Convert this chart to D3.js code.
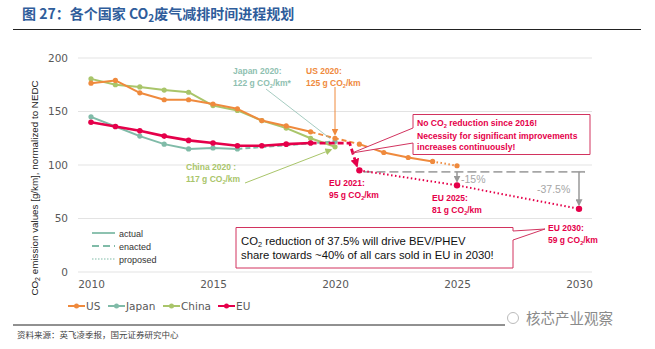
<!DOCTYPE html>
<html>
<head>
<meta charset="utf-8">
<script src="https://cdn.jsdelivr.net/npm/d3@7"></script>
<style>
  body { margin: 0; background: #fff; }
  svg { display: block; font-family: "Liberation Sans", Arial, sans-serif; }
</style>
</head>
<body>
<div id="chart"></div>
<script>
const width = 655;
const height = 349;

// data
const yTicks = [0, 50, 100, 150, 200];
const xTicks = [2010, 2015, 2020, 2025, 2030];

const usActual = [[2010, 176.5], [2011, 179], [2012, 167.5], [2013, 161], [2014, 161], [2015, 157], [2016, 152.5], [2017, 141.5], [2018, 136.5], [2019, 131]];
const usEnacted = [[2019, 131], [2020, 125], [2021, 119.5]];
const usPath = [[2021, 119.5], [2022, 111.7], [2023, 107], [2024, 103.3]];
const usProposed = [[2024, 103.3], [2025, 99.3]];

const japanActual = [[2010, 145], [2011, 136], [2012, 127], [2013, 119.5], [2014, 115], [2015, 116], [2016, 115]];
const japanEnacted = [[2016, 115], [2020, 122]];

const chinaActual = [[2010, 180.5], [2011, 175], [2012, 173], [2013, 170], [2014, 168], [2015, 155.5], [2016, 151], [2017, 141.5], [2018, 134.5], [2019, 125], [2020, 117]];

const euActual = [[2010, 140], [2011, 136], [2012, 132], [2013, 127], [2014, 123], [2015, 120.5], [2016, 118], [2017, 118], [2018, 119.5], [2019, 120.5]];
const euEnacted = [[2019, 120.5], [2020.6, 120.5], [2020.9, 99]];
const euProposed = [[2021, 95], [2025, 81], [2030, 59]];
const euBase = 95;

const seriesNames = ["US", "Japan", "China", "EU"];
const colors = { US: "#ef8a3d", Japan: "#80bba8", China: "#a9c56a", EU: "#e5004a" };

const svg = d3.select("#chart").append("svg")
  .attr("width", width)
  .attr("height", height);

const defs = svg.append("defs");
function arrow(id, color, size) {
  defs.append("marker")
    .attr("id", id)
    .attr("viewBox", "0 0 10 10")
    .attr("refX", 8).attr("refY", 5)
    .attr("markerWidth", size).attr("markerHeight", size)
    .attr("markerUnits", "userSpaceOnUse")
    .attr("orient", "auto")
    .append("path").attr("d", "M0,0L10,5L0,10z").attr("fill", color);
}
arrow("arOrange", colors.US, 7);
arrow("arGreen", colors.China, 7);
arrow("arRed", colors.EU, 9);
arrow("arGray", "#999", 7);

// title
svg.append("text")
  .attr("x", 22).attr("y", 19)
  .attr("font-family", "'Noto Sans CJK SC', sans-serif")
  .attr("font-size", 14).attr("font-weight", "bold")
  .attr("fill", "#2f5d9b")
  .html("图 27：各个国家 CO<tspan font-size='10' dy='3'>2</tspan><tspan dy='-3'>废气减排时间进程规划</tspan>");
svg.append("line").attr("x1", 13).attr("x2", 641).attr("y1", 29.5).attr("y2", 29.5)
  .attr("stroke", "#222").attr("stroke-width", 1);

const x = d3.scaleLinear().domain([2010, 2030]).range([91, 579]);
const y = d3.scaleLinear().domain([0, 200]).range([272, 58]);

// grid
svg.append("g").selectAll("line").data(yTicks).join("line")
  .attr("x1", 78).attr("x2", 592)
  .attr("y1", d => y(d)).attr("y2", d => y(d))
  .attr("stroke", "#e3e3e3").attr("stroke-width", 1);

// axes
const yAxis = svg.append("g").attr("transform", "translate(72,0)")
  .call(d3.axisLeft(y).tickValues(yTicks).tickSize(0).tickPadding(4));
const xAxis = svg.append("g").attr("transform", "translate(0,279)")
  .call(d3.axisBottom(x).tickValues(xTicks).tickFormat(d3.format("d")).tickSize(0).tickPadding(2));
[yAxis, xAxis].forEach(a => {
  a.select(".domain").remove();
  a.selectAll("text").attr("fill", "#595959")
    .attr("font-family", "'DejaVu Sans', sans-serif").attr("font-size", 10.5);
});

// y title
svg.append("text")
  .attr("transform", "translate(38,188) rotate(-90)")
  .attr("text-anchor", "middle")
  .attr("font-size", 9.8).attr("fill", "#222")
  .html("CO<tspan font-size='7' dy='2'>2</tspan><tspan dy='-2'> emission values [g/km], normalized to NEDC</tspan>");

const line = d3.line().x(d => x(d[0])).y(d => y(d[1]));

function drawLine(data, color, w, dash, markerEnd) {
  const p = svg.append("path").datum(data)
    .attr("d", line)
    .attr("fill", "none")
    .attr("stroke", color)
    .attr("stroke-width", w)
    .attr("stroke-linejoin", "round");
  if (dash) p.attr("stroke-dasharray", dash);
  if (markerEnd) p.attr("marker-end", markerEnd);
  return p;
}
function drawDots(data, color, r) {
  svg.append("g").selectAll("circle").data(data).join("circle")
    .attr("cx", d => x(d[0])).attr("cy", d => y(d[1]))
    .attr("r", r).attr("fill", color);
}

// gray reference line and reduction arrows
svg.append("line")
  .attr("x1", x(2021) + 4).attr("x2", x(2030) + 6)
  .attr("y1", y(euBase) + 1.5).attr("y2", y(euBase) + 1.5)
  .attr("stroke", "#a6a6a6").attr("stroke-width", 1.8).attr("stroke-dasharray", "9,4");
svg.append("line")
  .attr("x1", x(2030)).attr("x2", x(2030) + 6)
  .attr("y1", y(euBase) + 1.5).attr("y2", y(euBase) + 1.5)
  .attr("stroke", "#a6a6a6").attr("stroke-width", 1.8);
svg.append("line")
  .attr("x1", x(2025)).attr("x2", x(2025))
  .attr("y1", y(euBase) + 1.5).attr("y2", y(81) - 4)
  .attr("stroke", "#999").attr("stroke-width", 1.5).attr("marker-end", "url(#arGray)");
svg.append("line")
  .attr("x1", x(2030)).attr("x2", x(2030))
  .attr("y1", y(euBase) + 1.5).attr("y2", y(59) - 4)
  .attr("stroke", "#999").attr("stroke-width", 1.5).attr("marker-end", "url(#arGray)");
svg.append("text").attr("x", x(2025) + 4).attr("y", 183)
  .attr("font-size", 10.5).attr("fill", "#a6a6a6").text("-15%");
svg.append("text").attr("x", 537).attr("y", 193)
  .attr("font-size", 10.5).attr("fill", "#a6a6a6").text("-37.5%");

// series
drawLine(japanActual, colors.Japan, 2);
drawLine(japanEnacted, colors.Japan, 2, "5,3");
drawDots(japanActual.concat([japanEnacted[1]]), colors.Japan, 2.6);

drawLine(chinaActual, colors.China, 2);
drawDots(chinaActual, colors.China, 2.6);

drawLine(usActual, colors.US, 2);
drawLine(usEnacted, colors.US, 2, "5,3");
drawLine(usPath, colors.US, 2);
drawLine(usProposed, colors.US, 2, "1.5,2.5");
drawDots(usActual.concat(usEnacted.slice(1), usPath.slice(1), usProposed.slice(1)), colors.US, 2.6);

drawLine(euActual, colors.EU, 2.6);
drawLine(euEnacted, colors.EU, 2.8, "6,3", "url(#arRed)");
drawLine(euProposed, colors.EU, 2, "1.5,2.5");
drawDots(euActual, colors.EU, 2.8);
drawDots(euProposed, colors.EU, 3.2);

// annotations
function label(xp, yp, lines, color, size, weight) {
  const t = svg.append("text").attr("font-size", size).attr("font-weight", weight || "bold").attr("fill", color);
  lines.forEach((l, i) => {
    const ts = t.append("tspan").attr("x", xp).attr("y", yp + i * (size + 3));
    if (l.indexOf("CO2") >= 0) {
      const parts = l.split("CO2");
      ts.text(parts[0] + "CO");
      t.append("tspan").attr("font-size", size * 0.65).attr("dy", 2).text("2");
      t.append("tspan").attr("dy", -2).text(parts[1]);
    } else {
      ts.text(l);
    }
  });
  return t;
}

label(233, 74, ["Japan 2020:", "122 g CO2/km*"], "#8fbfb1", 8.5);
svg.append("line").attr("x1", 266).attr("y1", 89).attr("x2", x(2020) - 5).attr("y2", y(122) - 3)
  .attr("stroke", "#8fbfb1").attr("stroke-width", 0.8);

label(306, 74, ["US 2020:", "125 g CO2/km"], colors.US, 8.5);
svg.append("line").attr("x1", x(2020)).attr("y1", 87).attr("x2", x(2020)).attr("y2", y(125) - 4)
  .attr("stroke", colors.US).attr("stroke-width", 1).attr("marker-end", "url(#arOrange)");

label(186, 170, ["China 2020 :", "117 g CO2/km"], colors.China, 8.5);
svg.append("line").attr("x1", 245).attr("y1", 183).attr("x2", x(2020) - 4).attr("y2", y(117) + 3)
  .attr("stroke", colors.China).attr("stroke-width", 1).attr("marker-end", "url(#arGreen)");

label(329, 186, ["EU 2021:", "95 g CO2/km"], colors.EU, 8.5);
label(432, 201, ["EU 2025:", "81 g CO2/km"], colors.EU, 8.5);
label(548, 231, ["EU 2030:", "59 g CO2/km"], colors.EU, 8.5);

// red callout box
svg.append("path")
  .attr("d", "M413,114.5H590V154.5H413V143L352,153L413,128V114.5Z")
  .attr("fill", "#fff").attr("stroke", "#d2335f").attr("stroke-width", 1);
label(417, 126, ["No CO2 reduction since 2016!"], colors.EU, 8.6);
label(417, 139, ["Necessity for significant improvements"], colors.EU, 8.6);
label(417, 150, ["increases continuously!"], colors.EU, 8.6);

// bottom callout box
svg.append("path")
  .attr("d", "M236,227.5H513V231L545,229L513,240V268H236Z")
  .attr("fill", "#fff").attr("stroke", "#d2335f").attr("stroke-width", 1);
label(241, 245, ["CO2 reduction of 37.5% will drive BEV/PHEV"], "#111", 11.3, "normal");
label(241, 259, ["share towards ~40% of all cars sold in EU in 2030!"], "#111", 11.3, "normal");

// line style legend
const styleLegend = [["actual", null], ["enacted", "7,4"], ["proposed", "1.5,1.5"]];
styleLegend.forEach((s, i) => {
  const yy = 233 + i * 13;
  const l = svg.append("line").attr("x1", 92).attr("x2", 115).attr("y1", yy).attr("y2", yy)
    .attr("stroke", colors.Japan).attr("stroke-width", s[1] === "1.5,1.5" ? 1.2 : 1.8);
  if (s[1]) l.attr("stroke-dasharray", s[1]);
  svg.append("text").attr("x", 119).attr("y", yy + 3.5)
    .attr("font-size", 9).attr("fill", "#333").text(s[0]);
});

// series legend
const legendX = [68, 108, 163, 218];
seriesNames.forEach((n, i) => {
  const g = svg.append("g").attr("transform", `translate(${legendX[i]},306)`);
  g.append("line").attr("x1", 0).attr("x2", 17).attr("stroke", colors[n]).attr("stroke-width", 2);
  g.append("circle").attr("cx", 8.5).attr("r", 2.5).attr("fill", colors[n]);
  g.append("text").attr("x", 18).attr("y", 4)
    .attr("font-family", "'DejaVu Sans', sans-serif").attr("font-size", 10.5)
    .attr("fill", "#595959").text(n);
});

// footer
svg.append("line").attr("x1", 13).attr("x2", 505).attr("y1", 325).attr("y2", 325)
  .attr("stroke", "#222").attr("stroke-width", 1);
svg.append("text").attr("x", 17).attr("y", 338)
  .attr("font-family", "'Noto Sans CJK SC', sans-serif")
  .attr("font-size", 8.5).attr("fill", "#444")
  .text("资料来源：英飞凌季报，国元证券研究中心");
svg.append("circle").attr("cx", 513).attr("cy", 318).attr("r", 5.5)
  .attr("fill", "none").attr("stroke", "#bbb").attr("stroke-width", 1);
svg.append("text").attr("x", 526).attr("y", 324)
  .attr("font-family", "'Noto Sans CJK SC', sans-serif")
  .attr("font-size", 14.5).attr("fill", "#8a8a8a")
  .text("核芯产业观察");
</script>
</body>
</html>
